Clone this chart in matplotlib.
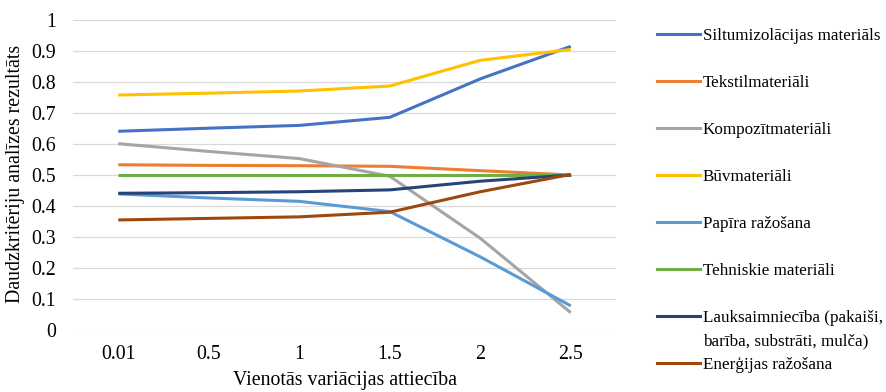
import matplotlib
matplotlib.use("Agg")
import matplotlib.pyplot as plt
from matplotlib.lines import Line2D

plt.rcParams['font.family'] = ['Liberation Serif', 'DejaVu Serif']

ratios = ["0.01", "0.5", "1", "1.5", "2", "2.5"]

siltumizolacijas = [0.641, 0.651, 0.660, 0.686, 0.810, 0.915]
tekstil = [0.533, 0.531, 0.530, 0.528, 0.514, 0.500]
kompozit = [0.601, 0.576, 0.553, 0.496, 0.296, 0.056]
buvmat = [0.758, 0.764, 0.771, 0.787, 0.870, 0.905]
papira = [0.439, 0.426, 0.415, 0.382, 0.236, 0.078]
tehniskie = [0.500, 0.500, 0.500, 0.500, 0.500, 0.500]
lauksaimnieciba = [0.441, 0.443, 0.446, 0.452, 0.480, 0.500]
energijas = [0.355, 0.360, 0.365, 0.380, 0.446, 0.502]

labels = [
    "Siltumizolācijas materiāls",
    "Tekstilmateriāli",
    "Kompozītmateriāli",
    "Būvmateriāli",
    "Papīra ražošana",
    "Tehniskie materiāli",
    "Lauksaimniecība (pakaiši,\nbarība, substrāti, mulča)",
    "Enerģijas ražošana",
]
series = [siltumizolacijas, tekstil, kompozit, buvmat, papira, tehniskie,
          lauksaimnieciba, energijas]
colors = ["#4472C4", "#ED7D31", "#A5A5A5", "#FFC000", "#5B9BD5", "#70AD47",
          "#264478", "#9E480E"]

W, H = 886, 392
fig = plt.figure(figsize=(W / 100, H / 100), dpi=100)
ax = fig.add_axes([73 / W, 1 - 330 / H, (616 - 73) / W, (330 - 20) / H])

x = list(range(len(ratios)))
for vals, c, lab in zip(series, colors, labels):
    ax.plot(x, vals, color=c, lw=2.2, solid_capstyle='butt', label=lab)

ax.set_xlim(-0.5, len(ratios) - 0.5)
ax.set_ylim(0, 1)
ax.set_yticks([i / 10 for i in range(11)])
ax.set_yticklabels(["0"] + [f"0.{i}" for i in range(1, 10)] + ["1"])
ax.set_xticks(x)
ax.set_xticklabels(ratios)
ax.tick_params(length=0, labelsize=14.3, colors="#000000")
ax.tick_params(axis='y', pad=12)
ax.tick_params(axis='x', pad=11)
ax.grid(axis='y', color="#D9D9D9", lw=0.9)
ax.set_axisbelow(True)
for s in ax.spines.values():
    s.set_visible(False)

ax.set_xlabel("Vienotās variācijas attiecība", fontsize=14.3, va='center')
ax.xaxis.set_label_coords(0.501, -0.1645)
ax.set_ylabel("Daudzkritēriju analīzes rezultāts", fontsize=14.3, va='center')
ax.yaxis.set_label_coords(-0.106, 0.503)

# legend on the right: one entry every 47 px, wrapped lines 23 px apart,
# the key line level with the first line of its label
y0 = 33.5
step = 47.1
line_gap = 23.3
for i, (c, lab) in enumerate(zip(colors, labels)):
    ypx = y0 + i * step
    yy = 1 - ypx / H
    fig.add_artist(Line2D([657 / W, 700 / W], [yy, yy], color=c, lw=2.2,
                          transform=fig.transFigure))
    for k, part in enumerate(lab.split("\n")):
        fig.text(703 / W, 1 - (ypx + k * line_gap) / H, part, fontsize=12.3,
                 va='center_baseline', ha='left')

fig.savefig("out.png", dpi=100)
